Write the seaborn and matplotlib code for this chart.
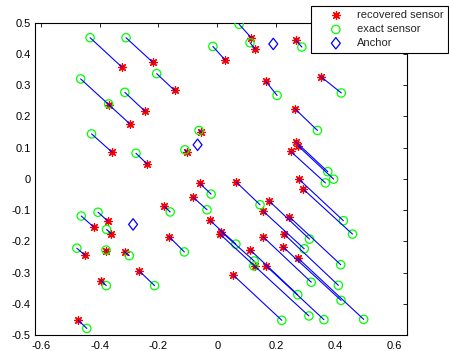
"""
Sensor localisation plot: recovered vs exact sensor positions with anchors.
"""

import matplotlib

matplotlib.use("Agg")

import matplotlib.pyplot as plt
import seaborn as sns
from matplotlib.markers import MarkerStyle
from matplotlib.ticker import FuncFormatter
from matplotlib.transforms import Affine2D


# recovered sensor positions
rec_x = [-0.323, -0.219, 0.026, -0.297, -0.369, -0.145, -0.245, -0.357, -0.238, -0.104,
         -0.055, 0.115, 0.128, 0.266, 0.164, 0.352, 0.263, 0.266, 0.275, 0.249,
         0.064, 0.277, 0.292, 0.176, 0.154, 0.244, 0.156, 0.227, 0.222, 0.273,
         0.111, 0.165, 0.054, 0.129, 0.013, 0.009, -0.025, -0.060, -0.082, -0.180,
         -0.164, -0.419, -0.372, -0.360, -0.449, -0.377, -0.315, -0.265, -0.395, -0.472]
rec_y = [0.357, 0.373, 0.381, 0.176, 0.237, 0.283, 0.216, 0.085, 0.047, 0.086,
         0.149, 0.452, 0.416, 0.445, 0.313, 0.327, 0.225, 0.119, 0.105, 0.088,
         -0.010, -0.001, -0.033, -0.071, -0.102, -0.121, -0.186, -0.177, -0.217, -0.253,
         -0.227, -0.278, -0.308, -0.279, -0.169, -0.177, -0.133, -0.014, -0.059, -0.088,
         -0.185, -0.155, -0.135, -0.176, -0.245, -0.231, -0.233, -0.295, -0.326, -0.453]

# exact sensor positions
true_x = [-0.432, -0.310, -0.015, -0.464, -0.369, -0.206, -0.314, -0.427, -0.276, -0.110,
          -0.062, 0.074, 0.111, 0.287, 0.203, 0.421, 0.340, 0.375, 0.395, 0.367,
          0.145, 0.428, 0.459, 0.313, 0.295, 0.419, 0.319, 0.411, 0.420, 0.497,
          0.273, 0.362, 0.219, 0.124, 0.125, 0.311, 0.063, -0.021, -0.035, -0.160,
          -0.112, -0.462, -0.405, -0.376, -0.477, -0.378, -0.299, -0.213, -0.377, -0.443]
true_y = [0.452, 0.452, 0.424, 0.320, 0.240, 0.337, 0.277, 0.144, 0.082, 0.093,
          0.155, 0.495, 0.436, 0.422, 0.267, 0.275, 0.155, 0.023, -0.001, -0.013,
          -0.083, -0.134, -0.177, -0.193, -0.224, -0.275, -0.331, -0.341, -0.389, -0.450,
          -0.371, -0.451, -0.453, -0.279, -0.263, -0.439, -0.209, -0.049, -0.099, -0.106,
          -0.234, -0.119, -0.107, -0.162, -0.222, -0.228, -0.246, -0.342, -0.342, -0.479]

anchor_x = [-0.067, 0.190, -0.286]
anchor_y = [0.109, 0.432, -0.146]

x_ticks = [-0.6, -0.4, -0.2, 0, 0.2, 0.4, 0.6]
y_ticks = [-0.5, -0.4, -0.3, -0.2, -0.1, 0, 0.1, 0.2, 0.3, 0.4, 0.5]


sns.set_theme(style="white")
plt.rcParams["font.family"] = ["Liberation Sans", "DejaVu Sans"]
plt.rcParams["axes.unicode_minus"] = False

fig = plt.figure(figsize=(4.49, 3.51), dpi=100)
ax = fig.add_axes([0.0773, 0.0456, 0.8285, 0.8897])

# MATLAB style diamond: a bit narrower than it is tall
diamond = MarkerStyle("D", transform=Affine2D().scale(0.78, 1.0))

sns.scatterplot(x=rec_x, y=rec_y, marker=(8, 2, 0), s=30, color="#ff0000",
                linewidth=0.9, label="recovered sensor", ax=ax, zorder=3)
sns.scatterplot(x=true_x, y=true_y, marker="o", s=36, color="#00ff00",
                facecolor="none", edgecolor="#00ff00", linewidth=0.9,
                label="exact sensor", ax=ax, zorder=3)
sns.scatterplot(x=anchor_x, y=anchor_y, marker=diamond, s=34, color="#0000ff",
                facecolor="none", edgecolor="#0000ff", linewidth=0.9,
                label="Anchor", ax=ax, zorder=3)

# link each recovered sensor to its exact location
for rx, ry, tx, ty in zip(rec_x, rec_y, true_x, true_y):
    ax.plot([rx, tx], [ry, ty], color="#0000ff", linewidth=0.8, zorder=4)

ax.set_xlim(-0.62, 0.643)
ax.set_ylim(-0.5, 0.5)
ax.set_xticks(x_ticks)
ax.set_yticks(y_ticks)
ax.xaxis.set_major_formatter(FuncFormatter(lambda v, _: f"{v:g}"))
ax.yaxis.set_major_formatter(FuncFormatter(lambda v, _: f"{v:g}"))
ax.tick_params(direction="in", length=3, width=0.6, colors="black",
               labelsize=8, top=True, right=True, pad=3)
ax.tick_params(axis="x", pad=4)
for spine in ax.spines.values():
    spine.set_color("black")
    spine.set_linewidth(0.8)

leg = ax.legend(loc="upper right", bbox_to_anchor=(0.9978, 0.983),
                bbox_transform=fig.transFigure, borderaxespad=0, fontsize=8,
                frameon=True, fancybox=False, framealpha=1, edgecolor="black",
                borderpad=0.4, handlelength=3.7, handletextpad=0.05,
                labelspacing=0.35)
leg.get_frame().set_linewidth(0.8)

fig.savefig("out.png", dpi=100)
plt.close(fig)
